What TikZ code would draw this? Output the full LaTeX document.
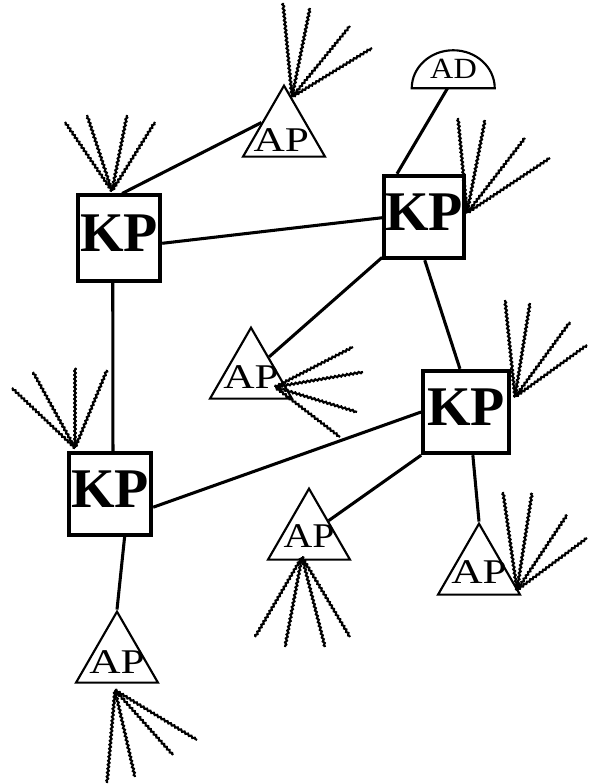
\documentclass[tikz,border=0pt]{standalone}
\usepackage{fontspec}
\setmainfont{Liberation Serif}
\usetikzlibrary{shapes.geometric,decorations.pathmorphing,calc}
\begin{document}
\begin{tikzpicture}[x=0.75pt,y=-0.75pt,
  kpbox/.style={draw,rectangle,line width=2.8pt,inner sep=0pt,
    font=\fontsize{42}{42}\selectfont\bfseries,text depth=7.5pt},
  apnode/.style={draw,regular polygon,regular polygon sides=3,
    minimum size=71pt,inner sep=0pt,line width=1.6pt},
  aptext/.style={font=\fontsize{26}{26}\selectfont,inner sep=0pt},
  conn/.style={line width=2.3pt},
  ray/.style={line width=1.6pt,decorate,
    decoration={zigzag,segment length=3pt,amplitude=0.6pt}}
]
\fill[white] (0,0) rectangle (588,784);
\useasboundingbox (0,0) rectangle (588,784);

% KP nodes
\node[kpbox,minimum width=62pt,minimum height=64pt] (kp1) at (119,238) {KP};
\node[kpbox,minimum width=60pt,minimum height=62pt] (kp2) at (424,217) {KP};
\node[kpbox,minimum width=64.5pt,minimum height=62pt] (kp3) at (466,412) {KP};
\node[kpbox,minimum width=62pt,minimum height=61pt] (kp4) at (110,494) {KP};

% AP nodes
\node[apnode,label={[aptext,yshift=-5pt,xshift=-2pt]center:\scalebox{1.25}[1]{AP}}] (ap1) at (284,133) {};
\node[apnode,label={[aptext,yshift=-1.5pt]center:\scalebox{1.25}[1]{AP}}] (ap2) at (251,375) {};
\node[apnode,label={[aptext,yshift=0pt]center:\scalebox{1.15}[1]{AP}}] (ap3) at (309,536) {};
\node[apnode,label={[aptext,yshift=-0.5pt]center:\scalebox{1.25}[1]{AP}}] (ap4) at (479,571) {};
\node[apnode,label={[aptext,yshift=-2.5pt]center:\scalebox{1.25}[1]{AP}}] (ap5) at (117,659) {};

% AD node
\node[minimum width=62.25pt,minimum height=28.5pt,inner sep=0pt,
  font=\fontsize{22}{22}\selectfont] (ad) at (453.5,69) {\scalebox{1.1}[1]{AD}};
\draw[line width=1.6pt] (ad.south west) arc[start angle=180,end angle=360,x radius=41.5,y radius=38] -- cycle;

% connectors
\draw[conn] (kp1.86) -- (ap1.155);
\draw[conn] (kp1.-7) -- (kp2.181);
\draw[conn] (kp1.-98) -- (kp4.86);
\draw[conn] (kp2.122) -- ($(ad.south)+(-6,0)$);
\draw[conn] (kp2.224) -- (ap2.45);
\draw[conn] (kp2.271) -- (kp3.98);
\draw[conn] (kp3.180) -- (kp4.-17);
\draw[conn] (kp3.south west) -- (ap3.38);
\draw[conn] (kp3.279) -- (ap4.corner 1);
\draw[conn] (kp4.289) -- (ap5.corner 1);

% radio rays
\coordinate (o1) at (292,97);
\foreach \p in {(283,3),(310,8),(350,26),(372,48)} \draw[ray] (o1) -- \p;
\coordinate (o2) at (112,191);
\foreach \p in {(65,122),(87,115),(127,115),(155,122)} \draw[ray] (o2) -- \p;
\coordinate (o3) at (467,213);
\foreach \p in {(458,118),(485,120),(525,138),(550,158)} \draw[ray] (o3) -- \p;
\coordinate (o4) at (515,397);
\foreach \p in {(505,300),(530,303),(570,322),(587,345)} \draw[ray] (o4) -- \p;
\coordinate (o5) at (275,387);
\foreach \p in {(353,347),(363,372),(357,412),(340,437)} \draw[ray] (o5) -- \p;
\coordinate (o6) at (75,448);
\foreach \p in {(12,388),(33,372),(75,368),(107,370)} \draw[ray] (o6) -- \p;
\coordinate (o7) at (302,557);
\foreach \p in {(255,637),(285,647),(325,647),(350,637)} \draw[ray] (o7) -- \p;
\coordinate (o8) at (517,590);
\foreach \p in {(503,492),(532,493),(567,515),(587,538)} \draw[ray] (o8) -- \p;
\coordinate (o9) at (115,690);
\foreach \p in {(107,783),(135,777),(173,755),(197,740)} \draw[ray] (o9) -- \p;
\end{tikzpicture}
\end{document}
